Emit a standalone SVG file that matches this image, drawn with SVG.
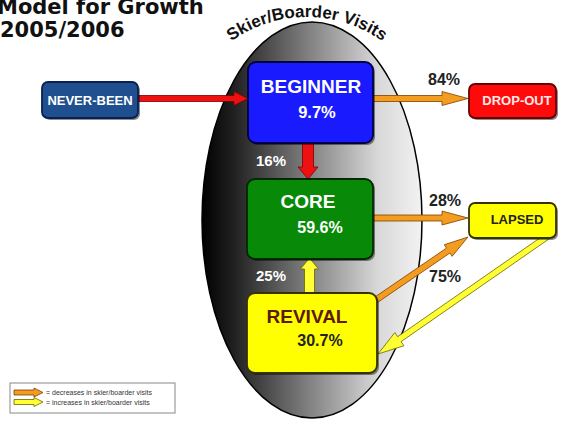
<svg xmlns="http://www.w3.org/2000/svg" width="561" height="421" viewBox="0 0 561 421">
<defs>
<linearGradient id="eg" x1="0" y1="0" x2="1" y2="0">
<stop offset="0" stop-color="#000"/>
<stop offset="0.15" stop-color="#222"/>
<stop offset="0.5" stop-color="#858585"/>
<stop offset="0.8" stop-color="#d8d8d8"/>
<stop offset="1" stop-color="#f2f2f2"/>
</linearGradient>
<path id="arc" d="M 177,147 A 130,130 0 0 1 437,147"/>
</defs>
<style>
text{font-family:"Liberation Sans",Arial,sans-serif;font-weight:bold}
.title{font-family:"DejaVu Sans",Verdana,sans-serif;font-size:21px;fill:#111}
.box{stroke-width:1.8}
.sh{fill:#000;opacity:0.45}
.red{fill:#ee1111;stroke:#700;stroke-width:0.8}
.org{fill:#f39c1f;stroke:#7a4200;stroke-width:0.8}
.yel{fill:#ffff33;stroke:#666600;stroke-width:0.8}
.pct{font-size:16px;fill:#222}
.wpct{font-size:15px;fill:#fff}
.leg{font-size:7px;font-weight:normal;fill:#333}
</style>
<rect width="561" height="421" fill="#fff"/>
<text class="title" x="-3" y="14">Model for Growth</text>
<text class="title" x="0" y="37">2005/2006</text>
<ellipse cx="312" cy="220" rx="110" ry="198" fill="url(#eg)" stroke="#000" stroke-width="1.5"/>
<text font-size="17" fill="#111"><textPath href="#arc" startOffset="50%" text-anchor="middle">Skier/Boarder Visits</textPath></text>
<g id="connectors">
<polygon class="red" points="136,95.5 234,95.5 234,91.5 248,98.5 234,105.5 234,101.5 136,101.5"/>
<polygon class="red" points="302.5,141 313.5,141 313.5,167 318,167 308,179 298,167 302.5,167"/>
<polygon class="yel" points="304.5,295 314.5,295 314.5,269 318.5,269 309.5,258 300.5,269 304.5,269"/>
<polygon class="org" points="371,95.5 442,95.5 442,91.5 468,98.5 442,105.5 442,101.5 371,101.5"/>
<polygon class="org" points="371,215 442,215 442,211 468,218 442,225 442,221 371,221"/>
<polygon class="org" points="371.69,306.48 449.88,253.03 452.14,256.33 468,237 444.24,244.77 446.5,248.07 368.31,301.52"/>
<polygon class="yel" points="546.29,233.54 397.65,336.71 394.8,332.6 378,354 403.92,345.74 401.07,341.63 549.71,238.46"/>
<text class="pct" x="428" y="85">84%</text>
<text class="pct" x="429" y="206">28%</text>
<text class="pct" x="429" y="282">75%</text>
<text class="wpct" x="256" y="166">16%</text>
<text class="wpct" x="256" y="281">25%</text>
</g>
<g id="never-been">
<rect class="sh" x="44" y="84" width="96" height="36" rx="6"/>
<rect class="box" x="42" y="82" width="96" height="36" rx="6" fill="#1f4f8f" stroke="#0a2050"/>
<text x="90" y="105" font-size="13" fill="#fff" text-anchor="middle">NEVER-BEEN</text>
</g>
<g id="beginner">
<rect class="sh" x="250" y="64" width="125" height="81" rx="8"/>
<rect class="box" x="248" y="62" width="125" height="81" rx="8" fill="#1a1aff" stroke="#000044"/>
<text x="311" y="93" font-size="19" fill="#fff" text-anchor="middle">BEGINNER</text>
<text x="317" y="118" font-size="16.5" fill="#fff" text-anchor="middle">9.7%</text>
</g>
<g id="core">
<rect class="sh" x="249" y="181" width="126" height="80" rx="8"/>
<rect class="box" x="247" y="179" width="126" height="80" rx="8" fill="#088a08" stroke="#002800"/>
<text x="308" y="208" font-size="19" fill="#fff" text-anchor="middle">CORE</text>
<text x="320" y="233" font-size="16" fill="#fff" text-anchor="middle">59.6%</text>
</g>
<g id="revival">
<rect class="sh" x="249" y="295" width="130" height="80" rx="8"/>
<rect class="box" x="247" y="293" width="130" height="80" rx="8" fill="#ffff00" stroke="#333300"/>
<text x="307" y="323" font-size="19" fill="#5c1a0a" text-anchor="middle">REVIVAL</text>
<text x="320" y="346" font-size="16" fill="#222" text-anchor="middle">30.7%</text>
</g>
<g id="drop-out">
<rect class="sh" x="471" y="86" width="87" height="34" rx="6"/>
<rect class="box" x="469" y="84" width="87" height="34" rx="6" fill="#ff0a0a" stroke="#600"/>
<text x="517" y="105" font-size="13" fill="#ffe8e8" text-anchor="middle">DROP-OUT</text>
</g>
<g id="lapsed">
<rect class="sh" x="471" y="205" width="87" height="35" rx="6"/>
<rect class="box" x="469" y="203" width="87" height="35" rx="6" fill="#ffff00" stroke="#333300"/>
<text x="517" y="224" font-size="13" fill="#222" text-anchor="middle">LAPSED</text>
</g>
<g id="legend">
<rect x="10" y="383" width="165" height="30" fill="#fff" stroke="#888" stroke-width="1"/>
<polygon class="org" points="14,390 34,390 34,388 43,392.5 34,397 34,395 14,395"/>
<polygon class="yel" points="14,399.5 34,399.5 34,397.5 43,402 34,406.5 34,404.5 14,404.5"/>
<text class="leg" x="46" y="395">= decreases in skier/boarder visits</text>
<text class="leg" x="46" y="404.5">= increases in skier/boarder visits</text>
</g>
</svg>
